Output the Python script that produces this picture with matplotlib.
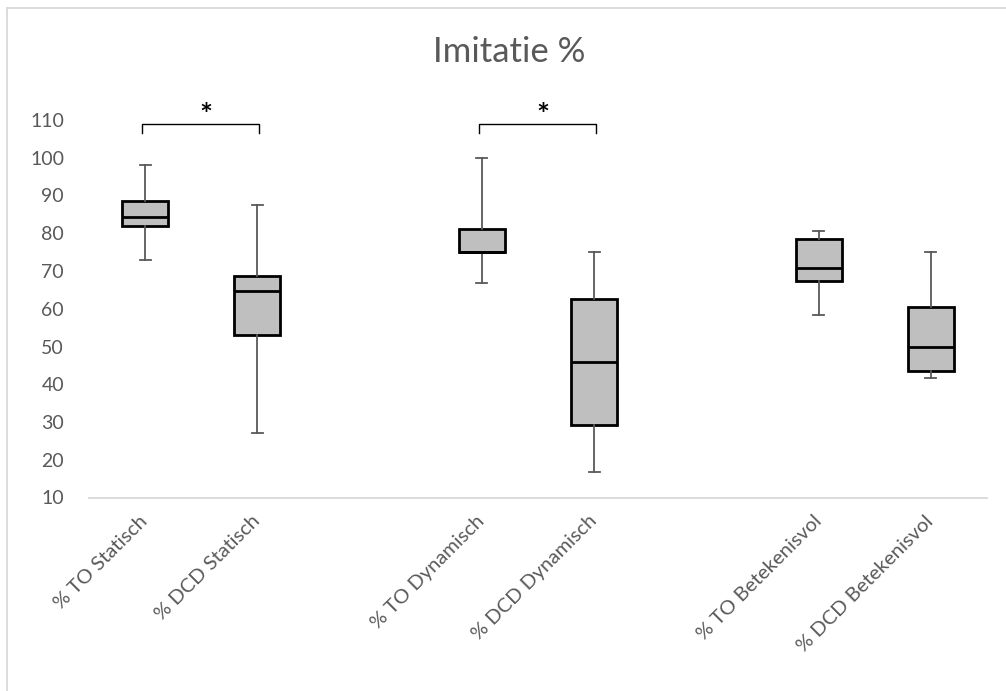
"""Imitatie % boxplots, redrawn from summary statistics."""

import matplotlib

matplotlib.use("Agg")
import matplotlib.pyplot as plt  # noqa: E402
from matplotlib.lines import Line2D  # noqa: E402

plt.rcParams["font.family"] = ["Lato", "DejaVu Sans"]

labels = [
    "% TO Statisch",
    "% DCD Statisch",
    "",
    "% TO Dynamisch",
    "% DCD Dynamisch",
    "",
    "% TO Betekenisvol",
    "% DCD Betekenisvol",
]
# box summary per non-empty category (category index, low, q1, median, q3, high)
box_pos = [0, 1, 3, 4, 6, 7]
whisk_lo = [73, 27, 66.7, 16.7, 58.3, 41.7]
q1 = [81.8, 53, 75, 29.2, 67.3, 43.6]
median = [84.3, 64.6, 75, 45.8, 70.8, 50]
q3 = [88.6, 68.8, 81.2, 62.5, 78.5, 60.4]
whisk_hi = [98, 87.5, 100, 75, 80.5, 75]

# significance brackets: (left category, right category)
sig_pairs = [(0, 1), (3, 4)]
bracket_y = 108.9
bracket_drop = 2.4
star_y = 111.0

yticks = list(range(10, 111, 10))
title = "Imitatie %"

GREY = "#595959"

fig = plt.figure(figsize=(10.06, 6.91), dpi=100)
ax = fig.add_axes([89 / 1006, 1 - 497.5 / 691, 898 / 1006, 377.5 / 691])

stats = [
    {"whislo": lo, "q1": a, "med": m, "q3": b, "whishi": hi, "fliers": []}
    for lo, a, m, b, hi in zip(whisk_lo, q1, median, q3, whisk_hi)
]
ax.bxp(
    stats,
    positions=box_pos,
    widths=0.41,
    patch_artist=True,
    showfliers=False,
    capwidths=0.1,
    boxprops=dict(facecolor="#BFBFBF", edgecolor="black", linewidth=2.0),
    medianprops=dict(color="black", linewidth=2.0),
    whiskerprops=dict(color=GREY, linewidth=1.3),
    capprops=dict(color=GREY, linewidth=1.3),
)

ax.set_xlim(-0.5, len(labels) - 0.5)
ax.set_ylim(10, 110)
ax.set_yticks(yticks)
ax.set_xticks(range(len(labels)))
ax.set_xticklabels(
    labels, rotation=45, ha="right", va="center", rotation_mode="anchor",
    fontsize=14.5, color=GREY,
)
ax.tick_params(axis="x", length=0, pad=15)
ax.tick_params(axis="y", length=0, pad=18, labelsize=14, labelcolor=GREY)
for side in ("top", "right", "left"):
    ax.spines[side].set_visible(False)
ax.spines["bottom"].set_color("#D9D9D9")
ax.spines["bottom"].set_linewidth(1.3)

for left, right in sig_pairs:
    xs = [left - 0.03, left - 0.03, right + 0.015, right + 0.015]
    ys = [bracket_y - bracket_drop, bracket_y, bracket_y, bracket_y - bracket_drop]
    ax.plot(xs, ys, color="black", linewidth=1.0, clip_on=False)
    ax.text((left + right) / 2 + 0.04, star_y, "*", ha="center", va="center",
            fontsize=22, fontweight="bold", color="black", clip_on=False)

fig.text(0.5 + 6 / 1006, 1 - 52 / 691, title, ha="center", va="center",
         fontsize=25, color=GREY)

# chart-area outline (only top and left edges fall inside the picture)
fig.add_artist(Line2D([7 / 1006, 7 / 1006], [0, 1 - 8 / 691],
                      transform=fig.transFigure, color="#D9D9D9", linewidth=1.3))
fig.add_artist(Line2D([7 / 1006, 1], [1 - 8 / 691, 1 - 8 / 691],
                      transform=fig.transFigure, color="#D9D9D9", linewidth=1.3))

fig.savefig("out.png", dpi=100)
